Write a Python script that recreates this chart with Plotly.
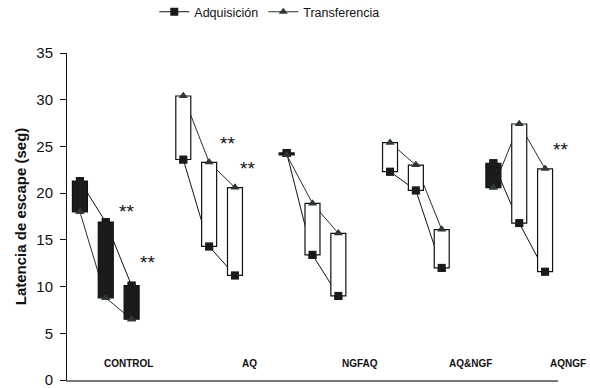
import plotly.graph_objects as go

# Grupos experimentales y latencias medias (seg) en tres sesiones
grupos = ["CONTROL", "AQ", "NGFAQ", "AQ&NGF", "AQNGF"]
adquisicion = [
    [21.3, 16.9, 10.1],
    [23.6, 14.3, 11.2],
    [24.3, 13.4, 9.0],
    [22.3, 20.3, 12.0],
    [23.2, 16.8, 11.6],
]
transferencia = [
    [18.0, 8.8, 6.5],
    [30.4, 23.3, 20.6],
    [24.1, 18.9, 15.7],
    [25.4, 23.0, 16.1],
    [20.6, 27.4, 22.6],
]
y_ticks = [0, 5, 10, 15, 20, 25, 30, 35]

# Layout constants: each group takes 3 slots plus one empty slot
SLOTS = 4
N_SLOTS = len(grupos) * SLOTS - 1
FONT = "Liberation Sans, Arial, sans-serif"
BOX_W = 0.58

xs, adq_line, tra_line = [], [], []
bx, bbase, bh, bcol = [], [], [], []
for g, (a_vals, t_vals) in enumerate(zip(adquisicion, transferencia)):
    for j, (a, t) in enumerate(zip(a_vals, t_vals)):
        x = g * SLOTS + j
        xs.append(x)
        adq_line.append(a)
        tra_line.append(t)
        bx.append(x)
        bbase.append(min(a, t))
        bh.append(abs(t - a))
        bcol.append("#ffffff" if t > a else "#1c1a1a")
    if g < len(grupos) - 1:
        xs.append(None)
        adq_line.append(None)
        tra_line.append(None)

fig = go.Figure()

# connecting lines (under the boxes)
fig.add_trace(go.Scatter(
    x=xs, y=adq_line, mode="lines+markers", name="Adquisición",
    line=dict(color="#111111", width=1),
    marker=dict(symbol="square", size=8, color="#1a1a1a"),
    connectgaps=False,
))
fig.add_trace(go.Scatter(
    x=xs, y=tra_line, mode="lines+markers", name="Transferencia",
    line=dict(color="#2a2f2e", width=1),
    marker=dict(symbol="triangle-up", size=8, color="#2c3936"),
    connectgaps=False,
))

# up/down boxes drawn on an overlaid subplot so they hide the lines
fig.add_trace(go.Bar(
    x=bx, y=bh, base=bbase, width=BOX_W,
    marker=dict(color=bcol, line=dict(color="#111111", width=1.2)),
    xaxis="x2", yaxis="y2", showlegend=False, hoverinfo="skip",
))
fig.add_trace(go.Scatter(
    x=xs, y=adq_line, mode="markers", showlegend=False,
    marker=dict(symbol="square", size=8, color="#1a1a1a"),
    xaxis="x2", yaxis="y2",
))
fig.add_trace(go.Scatter(
    x=xs, y=tra_line, mode="markers", showlegend=False,
    marker=dict(symbol="triangle-up", size=8, color="#2c3936"),
    xaxis="x2", yaxis="y2",
))

# group names inside the plot, near the baseline (x in slot units)
label_x = [1.89, 6.58, 10.83, 15.13, 18.87]
for name, lx in zip(grupos, label_x):
    fig.add_annotation(x=(lx + 0.5) / N_SLOTS, xref="paper", y=1.79,
                       text=f"<b>{name}</b>", showarrow=False,
                       font=dict(family=FONT, size=10, color="#111111"),
                       xanchor="center", yanchor="middle")

# significance marks
stars = [(1.81, 18.06), (2.61, 12.55), (5.72, 25.29), (6.48, 22.62), (18.58, 24.69)]
for sx, sy in stars:
    fig.add_annotation(x=(sx + 0.5) / N_SLOTS, xref="paper", y=sy, text="**",
                       showarrow=False,
                       font=dict(family=FONT, size=19, color="#111111"),
                       xanchor="center", yanchor="middle")

xr = [-0.5, N_SLOTS - 0.5]
yr = [0, 35]
fig.update_layout(
    width=590, height=388,
    margin=dict(l=67, r=32, t=53, b=8, autoexpand=False),
    paper_bgcolor="white", plot_bgcolor="white",
    font=dict(family=FONT, color="#111111"),
    barmode="overlay",
    showlegend=True,
    legend=dict(orientation="h", x=0.412, xanchor="center", y=1.125,
                yanchor="middle", font=dict(size=12.5, family=FONT),
                bgcolor="rgba(0,0,0,0)", itemwidth=30, tracegroupgap=0),
    xaxis=dict(range=xr, showticklabels=False, ticks="", showgrid=False,
               zeroline=False, showline=True, linecolor="#7a7a7a",
               linewidth=1.5, automargin=False),
    yaxis=dict(range=yr, tickvals=y_ticks, ticks="outside", ticklen=6,
               tickcolor="#111111", showgrid=False, zeroline=False,
               showline=True, linecolor="#111111", linewidth=1,
               automargin=False,
               ticklabeloverflow="allow", ticklabelstandoff=4,
               tickfont=dict(size=15, family=FONT),
               title=dict(text="<b>Latencia de escape (seg)</b>",
                          font=dict(size=15, family=FONT), standoff=6)),
    xaxis2=dict(range=xr, overlaying="x", visible=False),
    yaxis2=dict(range=yr, overlaying="y", visible=False),
)

fig.write_html("out.html")
